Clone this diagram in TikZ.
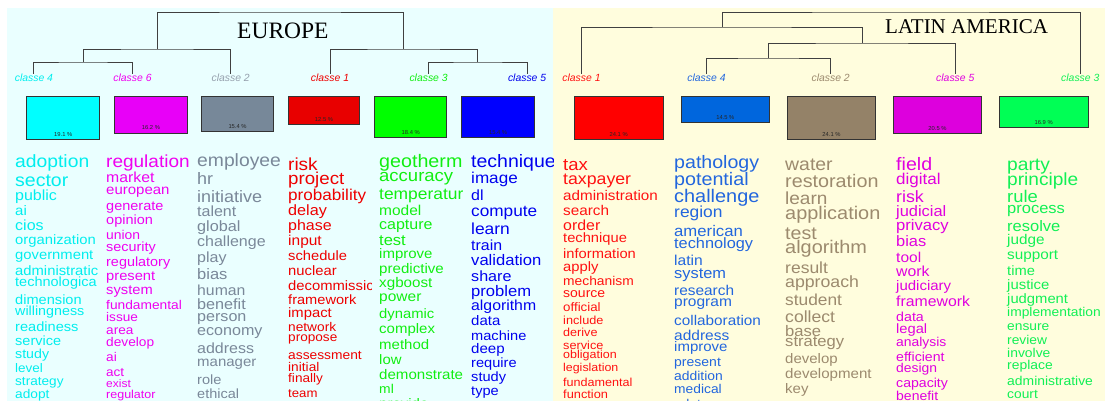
\documentclass[tikz,border=0pt]{standalone}
\usepackage{graphicx}
\usepackage{fontspec}
\setmainfont{Liberation Sans}
\newfontfamily\seriffont{Liberation Serif}
\definecolor{bgL}{HTML}{EAFFFF}
\definecolor{bgR}{HTML}{FFFDDD}
\definecolor{cLfour}{HTML}{00EEEE}\definecolor{bLfour}{HTML}{00FFFF}
\definecolor{cLsix}{HTML}{F000F0}\definecolor{bLsix}{HTML}{E800F8}
\definecolor{cLtwo}{HTML}{7A8899}\definecolor{bLtwo}{HTML}{778899}
\definecolor{cLone}{HTML}{EE0000}\definecolor{bLone}{HTML}{E80000}
\definecolor{cLthree}{HTML}{11EE11}\definecolor{bLthree}{HTML}{00FF00}
\definecolor{cLfive}{HTML}{0000EE}\definecolor{bLfive}{HTML}{0000FF}
\definecolor{cRone}{HTML}{FF1111}\definecolor{bRone}{HTML}{FF0000}
\definecolor{cRfour}{HTML}{2266DD}\definecolor{bRfour}{HTML}{0066DD}
\definecolor{cRtwo}{HTML}{9C8A6E}\definecolor{bRtwo}{HTML}{948268}
\definecolor{cRfive}{HTML}{E000E0}\definecolor{bRfive}{HTML}{DD00DD}
\definecolor{cRthree}{HTML}{11F055}\definecolor{bRthree}{HTML}{00FF55}
\tikzset{
  wordnode/.style={anchor=base west, inner sep=0pt},
  dend/.style={draw=black!75, line width=0.9pt},
  cls/.style={anchor=base, inner xsep=0pt, inner ysep=0.6pt, font=\itshape\fontsize{10.4}{10.4}\selectfont},
  clbox/.style={draw=black!80, line width=0.8pt, inner sep=0pt, anchor=north west},
  pct/.style={anchor=base, inner sep=0pt, text=black!85, font=\fontsize{5.8}{5.8}\selectfont},
  title/.style={anchor=base, inner sep=0pt, font=\seriffont\fontsize{#1}{#1}\selectfont}
}
\newcommand\wordcolumn[5]{%
  \begin{scope}
    \clip ({#2-2},140) rectangle (#3,402);
    \foreach \fs/\yy/\ww [count=\i] in {#5} {
      \node[wordnode, text=#4, font=\fontsize{\fs}{\fs}\selectfont] (#1\i) at (#2,\yy) {\scalebox{1}[0.92]{\ww}};
    }
  \end{scope}}
\begin{document}
\begin{tikzpicture}[x=1pt, y=-1pt]
\useasboundingbox (0,0) rectangle (1105,401);
\fill[bgL] (7,8) rectangle (553,401);
\fill[bgR] (553,8) rectangle (1105,401);

% titles
\node[title=23.5] (eu) at (282.9,38.3) {EUROPE};
\node[title=21] (la) at (966.6,34) {LATIN AMERICA};

% class labels, Europe
\node[cls, text=cLfour] (L4) at (33.9,82) {classe 4};
\node[cls, text=cLsix] (L6) at (132.5,82) {classe 6};
\node[cls, text=cLtwo!80] (L2) at (230.7,82) {classe 2};
\node[cls, text=cLone] (L1) at (330,82) {classe 1};
\node[cls, text=cLthree] (L3) at (428.6,82) {classe 3};
\node[cls, text=cLfive] (L5) at (527.1,82) {classe 5};
% class labels, Latin America
\node[cls, text=cRone] (R1) at (581.5,82) {classe 1};
\node[cls, text=cRfour] (R4) at (706.5,82) {classe 4};
\node[cls, text=cRtwo] (R2) at (830.7,82) {classe 2};
\node[cls, text=cRfive] (R5) at (955.3,82) {classe 5};
\node[cls, text=cRthree] (R3) at (1080.3,82) {classe 3};

% dendrogram Europe
\coordinate (m46) at (83.2,62);
\coordinate (m462) at (157.5,49);
\coordinate (m35) at (477.9,62);
\coordinate (m135) at (403.6,49);
\coordinate (ltop) at (280,12);
\draw[dend] (L4.north) |- (m46) -| (L6.north);
\draw[dend] (m46) |- (m462) -| (L2.north);
\draw[dend] (L3.north) |- (m35) -| (L5.north);
\draw[dend] (L1.north) |- (m135) -| (m35);
\draw[dend] (m462) |- (ltop) -| (m135);
% dendrogram Latin America
\coordinate (m42) at (768.6,58);
\coordinate (m425) at (862,43);
\coordinate (m1425) at (722,27);
\coordinate (rtop) at (900,12);
\draw[dend] (R4.north) |- (m42) -| (R2.north);
\draw[dend] (m42) |- (m425) -| (R5.north);
\draw[dend] (R1.north) |- (m1425) -| (m425);
\draw[dend] (m1425) |- (rtop) -| (R3.north);

% class boxes Europe
\node[clbox, fill=bLfour, minimum width=72.9pt, minimum height=42.7pt] (B4) at (26.4,96.3) {};
\node[clbox, fill=bLsix, minimum width=72.5pt, minimum height=36.4pt] (B6) at (114.3,96.3) {};
\node[clbox, fill=bLtwo, minimum width=71.5pt, minimum height=35pt] (B2) at (201.4,96.3) {};
\node[clbox, fill=bLone, minimum width=71.4pt, minimum height=28pt] (B1) at (287.9,96.3) {};
\node[clbox, fill=bLthree, minimum width=72.1pt, minimum height=40.7pt] (B3) at (374.3,96.3) {};
\node[clbox, fill=bLfive, minimum width=72.6pt, minimum height=40.7pt] (B5) at (461.4,96.3) {};
\node[pct] (P4) at ([yshift=3.5pt]B4.south) {19.1 \%};
\node[pct] (P6) at ([yshift=3.5pt]B6.south) {16.2 \%};
\node[pct] (P2) at ([yshift=3.5pt]B2.south) {15.4 \%};
\node[pct] (P1) at ([yshift=3.5pt]B1.south) {12.5 \%};
\node[pct] (P3) at ([yshift=3.5pt]B3.south) {18.4 \%};
\node[pct] (P5) at ([yshift=3.5pt]B5.south) {15.4 \%};
% class boxes Latin America
\node[clbox, fill=bRone, minimum width=88.6pt, minimum height=43pt] (Q1) at (574,96.3) {};
\node[clbox, fill=bRfour, minimum width=87.8pt, minimum height=26pt] (Q4) at (681,96.3) {};
\node[clbox, fill=bRtwo, minimum width=87.8pt, minimum height=43pt] (Q2) at (787.2,96.3) {};
\node[clbox, fill=bRfive, minimum width=87.4pt, minimum height=37pt] (Q5) at (893.4,96.3) {};
\node[clbox, fill=bRthree, minimum width=88.9pt, minimum height=31pt] (Q3) at (998.8,96.3) {};
\node[pct] (S1) at ([yshift=3.5pt]Q1.south) {24.1 \%};
\node[pct] (S4) at ([yshift=3.5pt]Q4.south) {14.5 \%};
\node[pct] (S2) at ([yshift=3.5pt]Q2.south) {24.1 \%};
\node[pct] (S5) at ([yshift=3.5pt]Q5.south) {20.5 \%};
\node[pct] (S3) at ([yshift=3.5pt]Q3.south) {16.9 \%};

% word columns Europe
\wordcolumn{wLfour}{15}{99}{cLfour}{19.3/167.3/adoption, 19.5/186.7/sector, 16/200/public, 15/215/ai, 16/230/cios, 14.8/244/organization, 14.8/259/government, 14.8/275.7/administratic, 14.5/286.7/technologica, 14.6/304/dimension, 14.3/315.7/willingness, 14.6/331.7/readiness, 14.5/345.7/service, 14.2/358.3/study, 13.5/372.3/level, 13.6/385/strategy, 13.7/398.3/adopt}
\wordcolumn{wLsix}{106}{190}{cLsix}{19/167.7/regulation, 15.8/182.7/market, 15/194.3/european, 14.5/210/generate, 14.5/224/opinion, 13.9/239.3/union, 14.4/251.7/security, 14.4/266/regulatory, 14.7/280/present, 14.7/294.3/system, 13.75/309.3/fundamental, 13.6/321.7/issue, 13.6/334/area, 13.7/346.7/develop, 13.7/361.7/ai, 13.5/376/act, 12/387.7/exist, 12.5/398.3/regulator}
\wordcolumn{wLtwo}{197}{281.5}{cLtwo}{19.3/166.7/employee, 18/184.3/hr, 18/202.3/initiative, 16/216.7/talent, 16.2/231.7/global, 16/246.7/challenge, 16/262.3/play, 16.5/279/bias, 15.8/295/human, 16.2/309/benefit, 16.1/321/person, 16.1/335.7/economy, 16/353.3/address, 15/366/manager, 14.6/384.3/role, 14.5/398.3/ethical}
\wordcolumn{wLone}{288}{371}{cLone}{19/170/risk, 18.7/184.3/project, 17.1/200/probability, 16.2/215.7/delay, 16/230/phase, 15.5/245/input, 14.7/260/schedule, 14.8/275.7/nuclear, 14.8/290.7/decommissic, 14.6/304.3/framework, 14.8/317.3/impact, 13.7/331.7/network, 13.6/341.7/propose, 13.8/359/assessment, 13.7/371.7/initial, 13.6/382.3/finally, 13.2/397.7/team}
\wordcolumn{wLthree}{379}{463.5}{cLthree}{19.7/167.7/geotherm, 18.5/181.7/accuracy, 17.4/199.3/temperatur, 15.5/215.7/model, 16/229/capture, 16.5/245/test, 15/258.3/improve, 15.1/273.3/predictive, 15.2/287.7/xgboost, 15.5/301.7/power, 14.8/318.3/dynamic, 15/333.3/complex, 15/349/method, 14.9/364/low, 15.1/379.3/demonstrate, 13.9/393.3/ml, 15/408/provide}
\wordcolumn{wLfive}{471}{553}{cLfive}{19.5/167.7/technique, 17.1/183.3/image, 16/200/dl, 17.2/216.7/compute, 17.4/234.3/learn, 15.9/250/train, 16.6/265.7/validation, 16.1/281/share, 16.6/296/problem, 15.8/310/algorithm, 15/325.7/data, 14.6/340/machine, 15.1/353.3/deep, 14.6/367.7/require, 14.6/381.7/study, 14.6/395.7/type}
% word columns Latin America
\wordcolumn{wRone}{563}{668}{cRone}{18.5/170/tax, 17.7/184.3/taxpayer, 15.2/200/administration, 15.3/215/search, 15.9/230/order, 14.7/242.3/technique, 14.7/258.3/information, 14.8/271.7/apply, 13.8/285/mechanism, 14/297.7/source, 13.3/311.7/official, 12.7/324/include, 12.6/336.7/derive, 12.7/349/service, 12.5/358.3/obligation, 12.4/371.7/legislation, 12.6/386.7/fundamental, 12.8/398.3/function}
\wordcolumn{wRfour}{674}{779}{cRfour}{19.6/168.3/pathology, 19.7/185.7/potential, 19.9/202.3/challenge, 17.4/217.7/region, 16.7/236.7/american, 16.3/248.3/technology, 15.6/265/latin, 16.4/278.3/system, 15.4/295/research, 15.5/306.7/program, 15.3/325/collaboration, 15.5/340/address, 15/351.7/improve, 14/366/present, 13.9/380.7/addition, 13.8/393.3/medical, 13.8/408/relate}
\wordcolumn{wRtwo}{785}{890}{cRtwo}{19.4/170/water, 19.75/187.7/restoration, 19/204.3/learn, 19.9/219/application, 19.6/239/test, 19.9/253.3/algorithm, 17.5/273.3/result, 17.7/287.3/approach, 17.3/305.7/student, 17.6/322.3/collect, 16.6/336.7/base, 16.6/346.7/strategy, 15/363.3/develop, 15.1/378.3/development, 15/393.3/key}
\wordcolumn{wRfive}{896}{1000}{cRfive}{19.6/170.7/field, 17/184.3/digital, 17.8/202.3/risk, 16.4/216.7/judicial, 16.6/230/privacy, 16.4/246.7/bias, 15.5/262.3/tool, 15.8/276.7/work, 15/290.7/judiciary, 15.8/306.7/framework, 14.2/321/data, 14.7/333.3/legal, 13.9/346.7/analysis, 14.1/361.7/efficient, 13.9/372.7/design, 14.1/387.7/capacity, 14/400/benefit}
\wordcolumn{wRthree}{1007}{1105}{cRthree}{19.2/170/party, 19.1/185.7/principle, 18.4/202.3/rule, 16.5/213.3/process, 16.5/231/resolve, 15.3/244.3/judge, 15.3/259.3/support, 14.7/275.7/time, 14.9/289.3/justice, 14.8/303.3/judgment, 13.8/316.7/implementation, 13.8/330.7/ensure, 13.8/344.3/review, 13.9/357.7/involve, 13.9/369/replace, 13.9/385.7/administrative, 13.8/398.3/court}
\end{tikzpicture}
\end{document}
